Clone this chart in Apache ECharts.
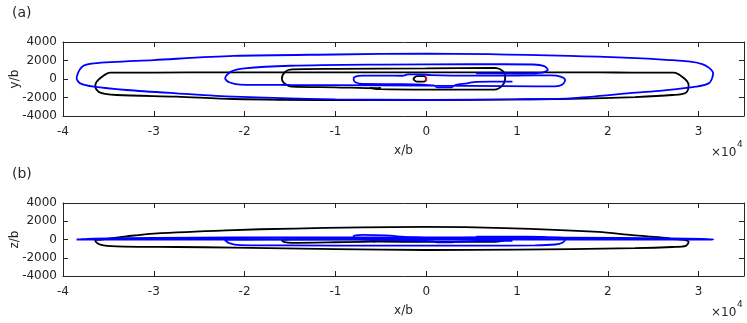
<!DOCTYPE html>
<html>
<head>
<meta charset="utf-8">
<script src="https://cdn.jsdelivr.net/npm/echarts@6/dist/echarts.min.js"></script>
<style>
  html, body { margin: 0; padding: 0; background: #fff; }
  #chart { width: 747px; height: 323px; }
</style>
</head>
<body>
<div id="chart"></div>
<script>
// trajectory samples, [x, y, z] in units of b
const blackOuter = [
  [-35700, 250, 0], [-36300, -300, -30], [-36450, -830, -150], [-35900, -1480, -550],
  [-34100, -1730, -750], [-27500, -1910, -820], [-21200, -2160, -880], [-10000, -2270, -1050],
  [0, -2280, -1150], [10000, -2200, -1100], [16000, -2150, -1050], [23000, -1950, -950],
  [27100, -1730, -820], [28600, -1480, -700], [28900, -650, -260], [28400, 75, -30],
  [27300, 680, 30], [26400, 700, 180], [22700, 700, 470], [19000, 710, 830],
  [8700, 720, 1250], [0, 720, 1380], [-14600, 720, 1200], [-22000, 720, 1010],
  [-30000, 700, 650], [-33000, 690, 350], [-34800, 680, 120], [-35700, 250, 0]
];
const blackInner = [
  [-5500, -1000, -200], [-6200, -950, -150], [-5700, -1050, -250], [-5000, -950, -100],
  [-5500, -1000, -200], [-10000, -900, -300], [-14800, -830, -370], [-15700, -400, -250],
  [-15900, 75, -50], [-15500, 800, 0], [-14800, 1050, 20], [-10000, 1100, 30],
  [0, 1150, 30], [7500, 1200, 30], [8500, 800, 0], [8700, 100, -30],
  [8400, -700, -150], [7500, -1150, -250], [0, -1150, -250], [-5000, -1100, -230],
  [-6000, -1000, -200]
];
const blackRing = [
  [0, 0, -100], [-200, 300, -50], [-1000, 320, 0], [-1400, 0, -100],
  [-1000, -290, -200], [-200, -280, -150], [0, 0, -100]
];
const blueOuter = [
  [0, -2270, 0], [-10000, -2200, 0], [-21200, -1910, 0], [-27500, -1550, 0],
  [-33000, -1190, 0], [-36600, -830, 0], [-38100, -470, 0], [-38500, 75, 0],
  [-37900, 1330, 30], [-36600, 1700, 80], [-30000, 2050, 180], [-21200, 2490, 220],
  [-10000, 2650, 230], [0, 2750, 230], [15800, 2490, 200], [26800, 2050, 120],
  [30400, 1620, 60], [31600, 610, 10], [31200, -400, 0], [29700, -830, 0],
  [26000, -1250, 0], [23100, -1480, 0], [15800, -2090, 0], [10000, -2200, 0],
  [0, -2270, 0]
];
const blueInner = [
  [5500, 610, 300], [11000, 610, 300], [12800, 700, 280], [13400, 1000, 250],
  [13000, 1400, 200], [11800, 1570, 150], [5000, 1600, 100], [-5000, 1560, 50],
  [-15000, 1430, 20], [-20000, 1150, 0], [-21500, 800, 0], [-22150, 75, -50],
  [-21700, -350, -400], [-20500, -600, -620], [-15000, -650, -650], [-5000, -680, -670],
  [5000, -740, -680], [12000, -800, -650], [14200, -800, -550], [15000, -600, -350],
  [15300, -110, 0], [14800, 250, 200], [13800, 400, 220], [10000, 380, 220],
  [5000, 360, 200], [500, 420, 150], [-500, 500, 200], [-2000, 500, 250],
  [-2600, 350, 300], [-4500, 360, 450], [-7000, 360, 500], [-7800, 250, 450],
  [-8000, 0, 300], [-7800, -350, 100], [-7000, -540, 0], [-3000, -560, -100],
  [-500, -600, -150], [800, -700, -200], [1200, -900, -300], [2800, -900, -300],
  [3200, -650, -250], [4500, -470, -200], [5500, -300, -150], [9500, -290, -150]
];
const redStart = [[0, 250, 0], [0, -250, 0]];

const X_MIN = -40000, X_MAX = 35000, X_STEP = 10000;
const Y_MIN = -4000, Y_MAX = 4000, Y_STEP = 2000;

const FONT = "DejaVu Sans";
const AXIS_COLOR = "#262626";

const chart = echarts.init(document.getElementById("chart"));

function plane(points, k) {
  return points.map((p) => [p[0], p[k]]);
}

function xAxes(gridIndex) {
  const base = {
    type: "value",
    gridIndex: gridIndex,
    min: X_MIN,
    max: X_MAX,
    interval: X_STEP,
    splitLine: { show: false },
    axisLine: { show: true, onZero: false, lineStyle: { color: AXIS_COLOR, width: 1 } },
    axisTick: { show: true, inside: true, length: 5, lineStyle: { color: AXIS_COLOR } },
  };
  return [
    {
      ...base,
      position: "bottom",
      axisLabel: {
        color: AXIS_COLOR,
        fontFamily: FONT,
        fontSize: 12,
        margin: 10,
        formatter: (v) => (v % X_STEP === 0 ? String(v / 10000) : ""),
      },
      name: "x/b",
      nameLocation: "middle",
      nameGap: 29,
      nameMoveOverlap: false,
      nameTextStyle: { color: AXIS_COLOR, fontFamily: FONT, fontSize: 12 },
    },
    { ...base, position: "top", axisLabel: { show: false } },
  ];
}

function yAxes(gridIndex, label) {
  const base = {
    type: "value",
    gridIndex: gridIndex,
    min: Y_MIN,
    max: Y_MAX,
    interval: Y_STEP,
    splitLine: { show: false },
    axisLine: { show: true, onZero: false, lineStyle: { color: AXIS_COLOR, width: 1 } },
    axisTick: { show: true, inside: true, length: 5, lineStyle: { color: AXIS_COLOR } },
  };
  return [
    {
      ...base,
      position: "left",
      axisLabel: {
        color: AXIS_COLOR,
        fontFamily: FONT,
        fontSize: 12,
        margin: 6,
        formatter: (v) => String(v),
      },
      name: label,
      nameLocation: "middle",
      nameGap: 42,
      nameMoveOverlap: false,
      nameTextStyle: { color: AXIS_COLOR, fontFamily: FONT, fontSize: 12 },
    },
    { ...base, position: "right", axisLabel: { show: false } },
  ];
}

function curve(points, k, axisIdx, color) {
  return {
    type: "line",
    xAxisIndex: axisIdx,
    yAxisIndex: axisIdx,
    data: plane(points, k),
    showSymbol: false,
    smooth: 0.3,
    lineStyle: { color: color, width: 1.8 },
    itemStyle: { color: color },
    silent: true,
  };
}

const series = [];
// top panel: x-y, bottom panel: x-z
[[1, 0], [2, 2]].forEach(([k, axisIdx]) => {
  series.push(curve(blackOuter, k, axisIdx, "#000000"));
  series.push(curve(blackInner, k, axisIdx, "#000000"));
  series.push(curve(blackRing, k, axisIdx, "#000000"));
  series.push(curve(blueOuter, k, axisIdx, "#0000ff"));
  series.push(curve(blueInner, k, axisIdx, "#0000ff"));
  series.push(curve(redStart, k, axisIdx, "#ff0000"));
});

const textStyle = (text, size) => ({ text: text, fill: AXIS_COLOR, font: size + "px " + FONT });

chart.setOption({
  animation: false,
  backgroundColor: "#ffffff",
  grid: [
    { left: 63, top: 42, width: 681, height: 74, containLabel: false, outerBoundsMode: "none" },
    { left: 63, top: 203, width: 681, height: 73, containLabel: false, outerBoundsMode: "none" },
  ],
  xAxis: [...xAxes(0), ...xAxes(1)],
  yAxis: [...yAxes(0, "y/b"), ...yAxes(1, "z/b")],
  series: series,
  graphic: [
    { type: "text", left: 12, top: 6, style: textStyle("(a)", 14) },
    { type: "text", left: 12, top: 167, style: textStyle("(b)", 14) },
    { type: "text", left: 711, top: 147, style: textStyle("×10", 12) },
    { type: "text", left: 737, top: 140, style: textStyle("4", 9) },
    { type: "text", left: 711, top: 307, style: textStyle("×10", 12) },
    { type: "text", left: 737, top: 300, style: textStyle("4", 9) },
  ],
});
</script>
</body>
</html>
